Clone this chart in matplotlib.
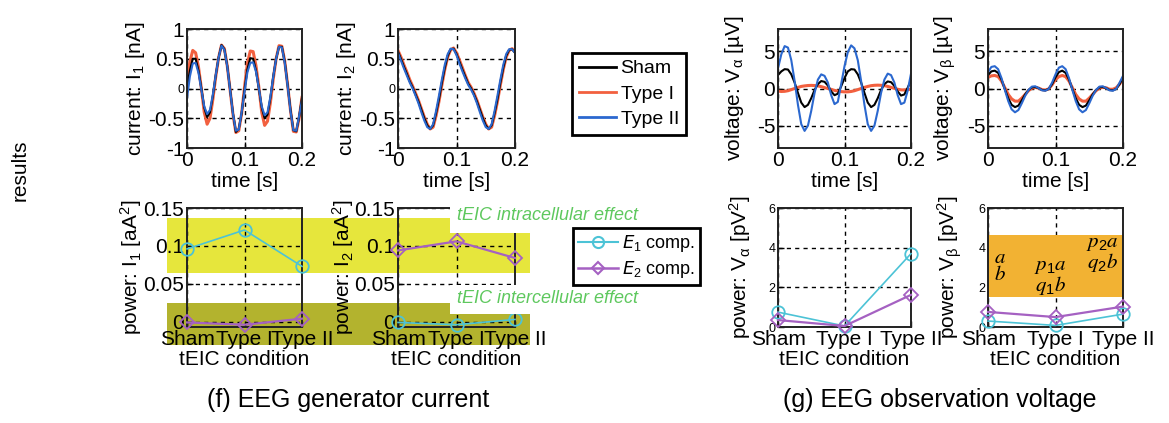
import numpy as np
import matplotlib
matplotlib.use('Agg')
import matplotlib.pyplot as plt
from matplotlib.patches import Rectangle
from matplotlib.lines import Line2D

plt.rcParams['font.family'] = ['Liberation Sans', 'DejaVu Sans']
plt.rcParams['mathtext.default'] = 'regular'

W, H = 1169, 423

# sample times (s), 5 ms step
t = np.linspace(0, 0.2, 41)

# generator currents I1 [nA]
i1_sham = [0.0, 0.3, 0.5, 0.5, 0.3, 0.0, -0.32, -0.48, -0.4, -0.12, 0.22, 0.52, 0.73, 0.66, 0.38,
           -0.02, -0.42, -0.73, -0.68, -0.42, -0.02, 0.32, 0.51, 0.5, 0.3, 0.0, -0.32, -0.5, -0.44,
           -0.16, 0.2, 0.5, 0.7, 0.7, 0.45, 0.06, -0.36, -0.7, -0.72, -0.48, -0.15]
i1_type1 = [0.08, 0.45, 0.64, 0.6, 0.36, 0.0, -0.4, -0.6, -0.5, -0.18, 0.2, 0.52, 0.73, 0.67, 0.38,
            -0.03, -0.44, -0.74, -0.71, -0.42, 0.02, 0.42, 0.63, 0.62, 0.38, 0.02, -0.4, -0.62, -0.55,
            -0.24, 0.16, 0.5, 0.72, 0.71, 0.46, 0.06, -0.37, -0.72, -0.73, -0.5, -0.15]
i1_type2 = [-0.17, 0.2, 0.42, 0.43, 0.26, -0.02, -0.3, -0.43, -0.36, -0.1, 0.23, 0.52, 0.72, 0.65, 0.37,
            -0.03, -0.43, -0.71, -0.69, -0.4, -0.06, 0.27, 0.43, 0.44, 0.28, 0.0, -0.3, -0.45, -0.4,
            -0.14, 0.2, 0.5, 0.7, 0.69, 0.43, 0.04, -0.38, -0.7, -0.71, -0.46, -0.2]

# generator currents I2 [nA]
i2_sham = [0.62, 0.5, 0.37, 0.25, 0.12, 0.02, -0.1, -0.22, -0.36, -0.5, -0.62, -0.68, -0.62, -0.42, -0.18,
           0.1, 0.35, 0.55, 0.66, 0.67, 0.58, 0.45, 0.32, 0.2, 0.08, 0.0, -0.1, -0.22, -0.36,
           -0.5, -0.62, -0.68, -0.62, -0.42, -0.18, 0.1, 0.35, 0.55, 0.65, 0.66, 0.6]
i2_type1 = [0.64, 0.53, 0.4, 0.28, 0.15, 0.04, -0.08, -0.2, -0.34, -0.48, -0.6, -0.68, -0.65, -0.46, -0.22,
            0.06, 0.32, 0.53, 0.65, 0.68, 0.6, 0.48, 0.35, 0.22, 0.1, 0.02, -0.08, -0.2, -0.34,
            -0.48, -0.6, -0.68, -0.65, -0.46, -0.22, 0.06, 0.32, 0.53, 0.64, 0.67, 0.62]
i2_type2 = [0.6, 0.47, 0.34, 0.22, 0.1, 0.0, -0.12, -0.25, -0.4, -0.54, -0.65, -0.68, -0.6, -0.38, -0.12,
            0.15, 0.4, 0.58, 0.67, 0.66, 0.56, 0.42, 0.29, 0.17, 0.06, -0.02, -0.12, -0.25, -0.4,
            -0.54, -0.65, -0.68, -0.6, -0.38, -0.12, 0.15, 0.4, 0.58, 0.66, 0.66, 0.6]

# observation voltages V_alpha [uV]
va_sham = [1.8, 2.3, 2.6, 2.55, 1.9, 0.8, -0.6, -1.9, -2.5, -2.2, -1.3, -0.2, 0.6, 1.0, 0.9,
           0.4, -0.4, -0.9, -0.7, 0.3, 1.4, 2.3, 2.6, 2.55, 1.9, 0.8, -0.6, -1.9, -2.5,
           -2.2, -1.3, -0.2, 0.6, 0.95, 0.85, 0.35, -0.4, -0.95, -0.8, 0.1, 1.1]
va_type1 = [-0.35, -0.4, -0.38, -0.3, -0.15, 0.0, 0.15, 0.28, 0.35, 0.4, 0.42, 0.4, 0.35, 0.25, 0.12,
            0.0, -0.12, -0.25, -0.35, -0.42, -0.45, -0.45, -0.4, -0.3, -0.15, 0.0, 0.15, 0.28, 0.38,
            0.43, 0.45, 0.43, 0.38, 0.28, 0.15, 0.02, -0.1, -0.18, -0.2, -0.15, -0.1]
va_type2 = [2.7, 4.6, 5.7, 5.5, 3.8, 1.0, -2.2, -4.8, -5.7, -5.0, -3.0, -0.6, 1.2, 1.9, 1.7,
            0.8, -0.9, -2.1, -1.8, 0.6, 3.0, 4.9, 5.8, 5.4, 3.8, 1.0, -2.2, -4.8, -5.7,
            -5.0, -3.0, -0.6, 1.2, 2.0, 1.8, 0.8, -0.9, -2.1, -1.9, -0.3, 2.0]

# observation voltages V_beta [uV]
vb_sham = [1.8, 2.3, 2.4, 2.1, 1.2, -0.1, -1.3, -2.2, -2.5, -2.3, -1.6, -0.8, -0.2, 0.15, 0.2,
           0.05, -0.2, -0.25, -0.05, 0.6, 1.5, 2.2, 2.4, 2.1, 1.2, -0.1, -1.3, -2.2, -2.5,
           -2.3, -1.6, -0.8, -0.2, 0.15, 0.2, 0.05, -0.2, -0.25, -0.05, 0.6, 1.5]
vb_type1 = [1.5, 1.7, 1.75, 1.6, 1.0, 0.1, -0.8, -1.4, -1.7, -1.7, -1.3, -0.8, -0.3, 0.05, 0.15,
            0.05, -0.15, -0.2, -0.05, 0.5, 1.2, 1.6, 1.75, 1.6, 1.0, 0.1, -0.8, -1.4, -1.7,
            -1.7, -1.3, -0.8, -0.3, 0.05, 0.15, 0.1, -0.1, -0.1, 0.1, 0.6, 1.3]
vb_type2 = [2.2, 2.9, 3.0, 2.6, 1.4, -0.2, -1.7, -2.8, -3.2, -2.9, -2.0, -1.0, -0.2, 0.25, 0.3,
            0.05, -0.25, -0.3, -0.05, 0.8, 1.9, 2.8, 3.0, 2.6, 1.4, -0.2, -1.7, -2.8, -3.2,
            -2.9, -2.0, -1.0, -0.2, 0.25, 0.3, 0.05, -0.25, -0.3, -0.05, 0.8, 1.7]

# power per tEIC condition
conditions = ['Sham', 'Type I', 'Type II']
pI1_e1 = [0.096, 0.121, 0.073]
pI1_e2 = [-0.001, -0.004, 0.004]
pI2_e1 = [-0.001, -0.004, 0.003]
pI2_e2 = [0.094, 0.106, 0.084]
pVa_e1 = [0.75, 0.05, 3.7]
pVa_e2 = [0.35, 0.05, 1.62]
pVb_e1 = [0.3, 0.08, 0.65]
pVb_e2 = [0.76, 0.5, 1.03]

# labels inside the V_beta band
band_notes = [(1.18, 3.5, r'$\mathit{a}$'), (1.18, 2.65, r'$\mathit{b}$'),
              (1.92, 3.05, r'$\mathit{p}_{1}\mathit{a}$'), (1.92, 2.1, r'$\mathit{q}_{1}\mathit{b}$'),
              (2.69, 4.2, r'$\mathit{p}_{2}\mathit{a}$'), (2.69, 3.25, r'$\mathit{q}_{2}\mathit{b}$')]

C_SHAM = 'black'
C_T1 = '#f2603f'
C_T2 = '#2b68cf'
C_E1 = '#4cc3d6'
C_E2 = '#a561c2'

fig = plt.figure(figsize=(W / 100, H / 100), dpi=100)


def box(l, top, r, b):
    return [l / W, 1 - b / H, (r - l) / W, (b - top) / H]


def frect(l, top, r, b, **kw):
    fig.patches.append(Rectangle((l / W, 1 - b / H), (r - l) / W, (b - top) / H,
                                 transform=fig.transFigure, **kw))


def style(ax):
    ax.set_facecolor('none')
    for s in ax.spines.values():
        s.set_linewidth(1.4)
        s.set_color('#222222')
    ax.tick_params(direction='in', length=4, width=1, labelsize=15, pad=2)
    ax.grid(True, color='k', linestyle=(0, (3, 3)), linewidth=1)


def time_panel(rect, sham, ty1, ty2, ylim, yticks, ylabels, ylabel, lx):
    ax = fig.add_axes(rect)
    style(ax)
    ax.plot(t, ty1, color=C_T1, lw=2.2)
    ax.plot(t, sham, color=C_SHAM, lw=1.5)
    ax.plot(t, ty2, color=C_T2, lw=1.5)
    ax.set_xlim(0, 0.2)
    ax.set_ylim(*ylim)
    ax.set_xticks([0, 0.1, 0.2])
    ax.set_xticklabels(['0', '0.1', '0.2'])
    ax.set_yticks(yticks)
    ax.set_yticklabels(ylabels)
    ax.set_xlabel('time [s]', fontsize=15)
    ax.xaxis.set_label_coords(0.5, -0.2)
    ax.set_ylabel(ylabel, fontsize=15)
    ax.yaxis.set_label_coords(lx, 0.5)
    return ax


def power_panel(rect, e1, e2, ylim, yticks, ylabels, ylabel, lx, ysize):
    ax = fig.add_axes(rect)
    style(ax)
    x = np.arange(1, len(conditions) + 1)
    ax.plot(x, e1, color=C_E1, lw=1.2, marker='o', ms=9, mfc='none', mew=1.3, zorder=3, clip_on=False)
    ax.plot(x, e2, color=C_E2, lw=1.6, marker='D', ms=7, mfc='none', mew=1.3, zorder=3, clip_on=False)
    ax.set_xlim(1, 3)
    ax.set_ylim(*ylim)
    ax.set_xticks(x)
    ax.set_xticklabels(conditions)
    ax.set_yticks(yticks)
    ax.set_yticklabels(ylabels)
    ax.tick_params(axis='y', labelsize=ysize)
    ax.set_xlabel('tEIC condition', fontsize=15)
    ax.xaxis.set_label_coords(0.5, -0.195)
    ax.set_ylabel(ylabel, fontsize=15)
    ax.yaxis.set_label_coords(lx, 0.5)
    return ax


# (f) EEG generator current
a = time_panel(box(187, 29, 302, 148), i1_sham, i1_type1, i1_type2, (-1, 1),
               [-1, -0.5, 0, 0.5, 1], ['-1', '-0.5', '0', '0.5', '1'], 'current: I$_1$ [nA]', -0.35)
a.yaxis.get_major_ticks()[2].label1.set_fontsize(9)
a = time_panel(box(398, 29, 515, 148), i2_sham, i2_type1, i2_type2, (-1, 1),
               [-1, -0.5, 0, 0.5, 1], ['-1', '-0.5', '0', '0.5', '1'], 'current: I$_2$ [nA]', -0.34)
a.yaxis.get_major_ticks()[2].label1.set_fontsize(9)

power_panel(box(187, 208, 302, 327), pI1_e1, pI1_e2, (-0.007, 0.15), [0, 0.05, 0.1, 0.15],
            ['0', '0.05', '0.1', '0.15'], 'power: I$_1$ [aA$^2$]', -0.37, 15)
power_panel(box(398, 208, 515, 327), pI2_e1, pI2_e2, (-0.007, 0.15), [0, 0.05, 0.1, 0.15],
            ['0', '0.05', '0.1', '0.15'], 'power: I$_2$ [aA$^2$]', -0.36, 15)

# (g) EEG observation voltage
time_panel(box(778, 29, 911, 148), va_sham, va_type1, va_type2, (-8, 8),
           [-5, 0, 5], ['-5', '0', '5'], r'voltage: V$_\alpha$ [µV]', -0.24)
time_panel(box(988, 29, 1123, 148), vb_sham, vb_type1, vb_type2, (-8, 8),
           [-5, 0, 5], ['-5', '0', '5'], r'voltage: V$_\beta$ [µV]', -0.22)

power_panel(box(778, 208, 911, 327), pVa_e1, pVa_e2, (0, 6), [0, 2, 4, 6],
            ['0', '2', '4', '6'], r'power: V$_\alpha$ [pV$^2$]', -0.19, 9)
ax_vb = power_panel(box(988, 208, 1123, 327), pVb_e1, pVb_e2, (0, 6), [0, 2, 4, 6],
                    ['0', '2', '4', '6'], r'power: V$_\beta$ [pV$^2$]', -0.18, 9)
ax_vb.axhspan(1.52, 4.62, color='#f2b233', zorder=1.8, lw=0)
for xi, yi, s in band_notes:
    ax_vb.text(xi, yi, s, fontsize=15, math_fontfamily='stix', ha='center', va='center', zorder=4)

# effect bands behind the (f) power panels
frect(167, 218, 530, 273, color='#e6e63c', lw=0, zorder=-1)
frect(167, 303, 530, 345, color='#b3b32e', lw=0, zorder=-1)
frect(450, 196, 650, 233, color='white', lw=0, zorder=3)
frect(450, 285, 650, 314, color='white', lw=0, zorder=3)
fig.text(457 / W, 1 - 216 / H, 'tEIC intracellular effect', color='#5ec85e', style='italic',
         fontsize=13, va='center', zorder=4)
fig.text(457 / W, 1 - 298 / H, 'tEIC intercellular effect', color='#5ec85e', style='italic',
         fontsize=13, va='center', zorder=4)

# legends
h1 = [Line2D([], [], color=c, lw=2) for c in (C_SHAM, C_T1, C_T2)]
leg1 = fig.legend(h1, ['Sham', 'Type I', 'Type II'], loc='upper left',
                  bbox_to_anchor=(572 / W, 1 - 53 / H), fontsize=14, fancybox=False,
                  edgecolor='k', framealpha=1, handlelength=1.9, handletextpad=0.25,
                  borderpad=0.35, labelspacing=0.4, borderaxespad=0)
leg1.get_frame().set_linewidth(2)
h2 = [Line2D([], [], color=C_E1, lw=1.5, marker='o', ms=8, mfc='none', mew=1.5),
      Line2D([], [], color=C_E2, lw=1.8, marker='D', ms=6, mfc='none', mew=1.5)]
leg2 = fig.legend(h2, [r'$\mathit{E}_{1}$ comp.', r'$\mathit{E}_{2}$ comp.'], loc='upper left',
                  bbox_to_anchor=(573 / W, 1 - 228 / H), fontsize=13, fancybox=False,
                  edgecolor='k', framealpha=1, handlelength=2.2, handletextpad=0.2,
                  borderpad=0.3, labelspacing=0.25, borderaxespad=0)
leg2.get_frame().set_linewidth(2)

fig.text(20 / W, 1 - 170 / H, 'results', rotation=90, fontsize=15, ha='center', va='center')
fig.text(348 / W, 1 - 400 / H, '(f) EEG generator current', fontsize=18, ha='center', va='center')
fig.text(940 / W, 1 - 400 / H, '(g) EEG observation voltage', fontsize=18, ha='center', va='center')

fig.savefig('out.png', dpi=100)
